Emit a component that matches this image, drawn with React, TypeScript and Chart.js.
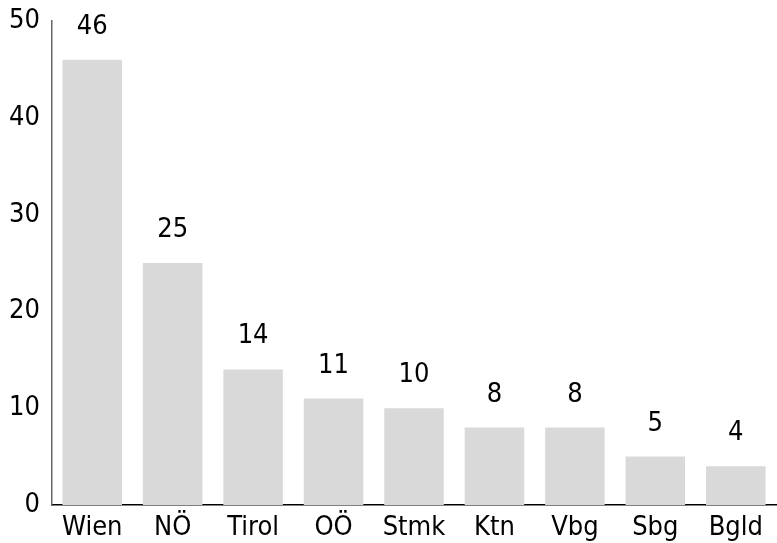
import React, { useEffect, useRef } from "react";
import { Chart, registerables } from "chart.js";

Chart.register(...registerables);

const categories = ["Wien", "NÖ", "Tirol", "OÖ", "Stmk", "Ktn", "Vbg", "Sbg", "Bgld"];
const values = [46, 25, 14, 11, 10, 8, 8, 5, 4];
const yTicks = [0, 10, 20, 30, 40, 50];

const FONT = "'DejaVu Sans Condensed', 'DejaVu Sans', sans-serif";
const NUM_SIZE = 27;
const CAT_SIZE = 27;

const valueLabels = {
  id: "valueLabels",
  afterDatasetsDraw(chart: any) {
    const ctx = chart.ctx;
    const meta = chart.getDatasetMeta(0);
    ctx.save();
    ctx.font = `${NUM_SIZE}px ${FONT}`;
    ctx.fillStyle = "#000";
    ctx.textAlign = "center";
    ctx.textBaseline = "middle";
    meta.data.forEach((bar: any, i: number) => {
      ctx.fillText(String(values[i]), bar.x, bar.y - 33);
    });
    ctx.restore();
  },
};

export default function App() {
  const ref = useRef<HTMLCanvasElement>(null);
  useEffect(() => {
    const chart = new Chart(ref.current!, {
      type: "bar",
      data: {
        labels: categories,
        datasets: [
          {
            data: values,
            backgroundColor: "#d9d9d9",
            categoryPercentage: 0.74,
            barPercentage: 1,
          },
        ],
      },
      plugins: [valueLabels],
      options: {
        animation: false,
        responsive: false,
        layout: { padding: { top: 21, right: 1, left: 0, bottom: 0 } },
        plugins: { legend: { display: false }, tooltip: { enabled: false } },
        scales: {
          x: {
            grid: { display: false, drawTicks: false },
            border: { color: "#000", width: 1.5 },
            ticks: { color: "#000", font: { family: FONT, size: CAT_SIZE }, padding: 7, maxRotation: 0 },
            afterFit: (s: any) => {
              s.height = 38;
              s.paddingLeft = 0;
              s.paddingRight = 0;
            },
          },
          y: {
            min: 0,
            max: 50,
            afterBuildTicks: (s: any) => {
              s.ticks = yTicks.map((v) => ({ value: v }));
            },
            grid: { display: false, drawTicks: false },
            border: { color: "#666", width: 1.5 },
            ticks: { color: "#000", font: { family: FONT, size: NUM_SIZE }, padding: 12 },
            afterFit: (s: any) => {
              s.width = 52;
              s.paddingTop = 0;
              s.paddingBottom = 0;
            },
          },
        },
      },
    });
    return () => chart.destroy();
  }, []);
  return (
    <div style={{ position: "absolute", left: 0, top: 0, width: 777, height: 543, background: "#fff" }}>
      <canvas ref={ref} width={777} height={543} style={{ width: 777, height: 543 }} />
    </div>
  );
}
